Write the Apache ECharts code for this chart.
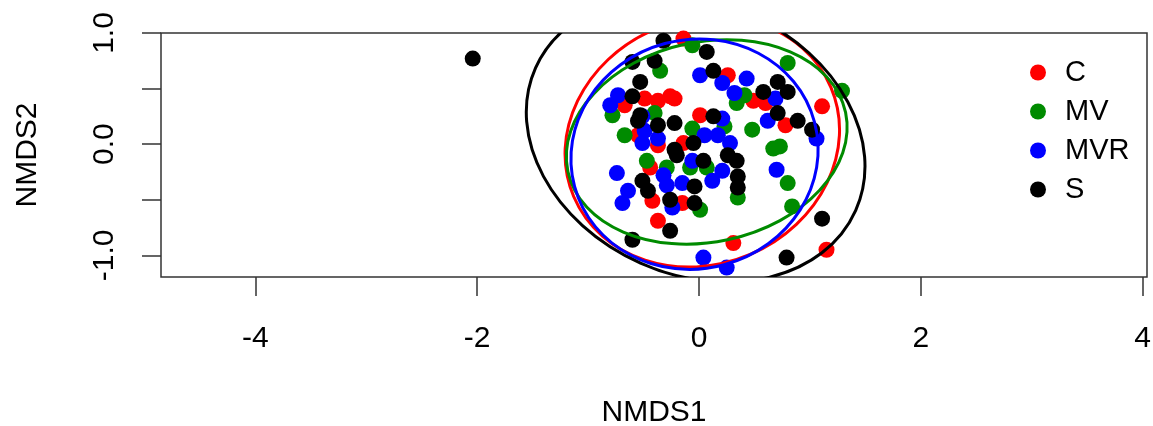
<!DOCTYPE html>
<html>
<head>
<meta charset="utf-8">
<title>NMDS</title>
<script src="https://cdn.jsdelivr.net/npm/echarts@6/dist/echarts.min.js"></script>
</head>
<body style="margin:0">
<div id="main" style="width:1153px;height:426px;"></div>
<script type="text/javascript">
// NMDS scores per group, [NMDS1, NMDS2]
var groups = ['C', 'MV', 'MVR', 'S'];
var colors = ['#FF0000', '#008B00', '#0000FF', '#000000'];

var ptsC = [[-0.67,0.35],[-0.49,0.41],[-0.37,0.39],[-0.26,0.43],[-0.22,0.41],[-0.55,0.08],[-0.37,-0.01],
    [-0.14,0.95],[0.26,0.62],[0.49,0.39],[0.60,0.37],[0.01,0.26],[-0.14,0.01],[1.11,0.34],[0.78,0.17],
    [-0.44,-0.21],[-0.42,-0.51],[-0.37,-0.69],[-0.15,-0.53],[0.31,-0.89],[1.15,-0.95]];
var ptsMV = [[-0.35,0.66],[-0.78,0.26],[-0.40,0.28],[-0.67,0.08],[-0.06,0.89],[0.41,0.44],[0.34,0.37],
    [0.48,0.13],[0.23,0.16],[-0.06,0.14],[0.67,-0.04],[0.80,0.73],[1.29,0.48],[0.73,-0.02],[-0.47,-0.15],
    [-0.29,-0.21],[-0.08,-0.21],[0.07,-0.21],[0.35,-0.48],[0.01,-0.59],[0.80,-0.35],[0.84,-0.56]];
var ptsMVR = [[-0.73,0.44],[-0.80,0.35],[-0.51,0.25],[-0.49,0.12],[-0.37,0.05],[-0.51,0.01],[0.01,0.62],
    [0.21,0.55],[0.43,0.59],[0.32,0.46],[0.69,0.41],[0.62,0.21],[0.21,0.23],[0.05,0.08],[0.17,0.08],
    [0.28,0.01],[1.06,0.05],[-0.74,-0.26],[-0.64,-0.42],[-0.69,-0.53],[-0.32,-0.28],[-0.29,-0.37],
    [-0.24,-0.57],[-0.06,-0.15],[0.21,-0.24],[0.12,-0.33],[-0.15,-0.35],[0.70,-0.23],[0.04,-1.02],[0.25,-1.11]];
var ptsS = [[-2.04,0.77],[-0.32,0.93],[-0.60,0.74],[-0.40,0.75],[-0.53,0.56],[-0.60,0.43],[-0.53,0.26],
    [-0.55,0.21],[-0.37,0.17],[-0.22,0.19],[-0.22,-0.05],[0.07,0.83],[0.13,0.66],[0.58,0.47],[0.71,0.56],
    [0.71,0.28],[0.13,0.25],[-0.05,0.01],[0.80,0.47],[0.89,0.21],[1.02,0.13],[-0.51,-0.33],[-0.46,-0.42],
    [-0.26,-0.50],[-0.20,-0.10],[-0.26,-0.78],[-0.60,-0.86],[0.04,-0.15],[0.26,-0.10],[0.34,-0.15],
    [0.35,-0.29],[0.35,-0.39],[-0.04,-0.38],[-0.04,-0.53],[1.11,-0.67],[0.79,-1.02]];

// group ellipses: [centre x, centre y, semi-axis a, semi-axis b, angle in degrees]
var ellC = [0.03, 0.02, 1.26, 1.10, 23];
var ellMV = [0.07, 0.02, 1.28, 0.90, 12];
var ellMVR = [-0.04, -0.09, 1.12, 1.03, 15];
var ellS = [-0.03, 0.045, 1.58, 1.22, -24];

var xTicks = [-4, -2, 0, 2, 4];
var yTicks = [-1, -0.5, 0, 0.5, 1];
var yLabels = [-1, 0, 1];

var points = [ptsC, ptsMV, ptsMVR, ptsS];
var ellipses = [ellC, ellMV, ellMVR, ellS];

var myChart = echarts.init(document.getElementById('main'));
var font = 'Liberation Sans';

function drawEllipse(params, api) {
    var c = api.coord([api.value(0), api.value(1)]);
    var s = api.size([1, 1]);
    return {
        type: 'ellipse',
        x: c[0],
        y: c[1],
        rotation: api.value(4) * Math.PI / 180,
        shape: { cx: 0, cy: 0, rx: api.value(2) * s[0], ry: api.value(3) * s[1] },
        style: { fill: 'none', stroke: api.visual('color'), lineWidth: 3 }
    };
}

var series = [];
for (var i = 0; i < groups.length; i++) {
    series.push({
        name: groups[i],
        type: 'scatter',
        data: points[i],
        symbolSize: 16,
        itemStyle: { color: colors[i], opacity: 1 },
        z: 2
    });
}
for (var j = 0; j < groups.length; j++) {
    series.push({
        type: 'custom',
        data: [ellipses[j]],
        renderItem: drawEllipse,
        clip: true,
        itemStyle: { color: colors[j] },
        silent: true,
        z: 3
    });
}

var option = {
    animation: false,
    grid: {
        left: 161, right: 6, top: 33, bottom: 149,
        outerBoundsMode: 'none',
        containLabel: false,
        show: true, borderColor: '#333', borderWidth: 1.5
    },
    legend: {
        data: groups,
        orient: 'vertical',
        left: 1025,
        top: 53,
        icon: 'circle',
        itemWidth: 16,
        itemHeight: 16,
        itemGap: 10,
        textStyle: { fontFamily: font, fontSize: 29, color: '#000', padding: [0, 0, 0, 14] }
    },
    xAxis: {
        type: 'value',
        min: -4.851,
        max: 4.04,
        name: 'NMDS1',
        nameLocation: 'middle',
        nameGap: 121,
        nameTextStyle: { fontFamily: font, fontSize: 30, color: '#000' },
        axisLine: { show: false, onZero: false },
        splitLine: { show: false },
        axisTick: { customValues: xTicks, length: 19, lineStyle: { color: '#333', width: 1.5 } },
        axisLabel: { customValues: xTicks, margin: 47, fontFamily: font, fontSize: 30, color: '#000' }
    },
    yAxis: {
        type: 'value',
        min: -1.195,
        max: 1.0,
        name: 'NMDS2',
        nameLocation: 'middle',
        nameGap: 118,
        nameTextStyle: { fontFamily: font, fontSize: 30, color: '#000' },
        axisLine: { show: false, onZero: false },
        splitLine: { show: false },
        axisTick: { customValues: yTicks, length: 19, lineStyle: { color: '#333', width: 1.5 } },
        axisLabel: {
            customValues: yLabels, rotate: 90, margin: 41,
            fontFamily: font, fontSize: 30, color: '#000',
            formatter: function (v) { return v.toFixed(1); }
        }
    },
    series: series
};
myChart.setOption(option);
</script>
</body>
</html>
